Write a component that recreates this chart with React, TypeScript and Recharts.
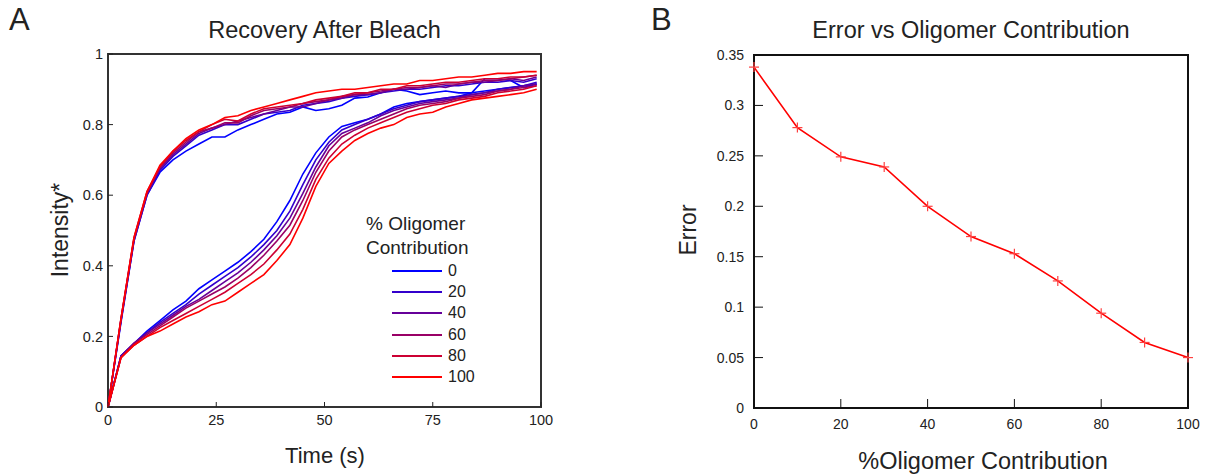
import { LineChart, Line, XAxis, YAxis, ReferenceArea, Legend } from 'recharts'

// panel A: recovery curves, sampled every 3 s
const time = [0,3,6,9,12,15,18,21,24,27,30,33,36,39,42,45,48,51,54,57,60,63,66,69,72,75,78,81,84,87,90,93,96,99]
const levels = ['0','20','40','60','80','100']
const colors = ['#0000ff','#3300cc','#660099','#990066','#cc0033','#ff0000']

const fast0 = [0,0.24,0.47,0.6,0.665,0.7,0.725,0.745,0.765,0.765,0.785,0.8,0.815,0.83,0.835,0.85,0.84,0.845,0.855,0.875,0.878,0.89,0.9,0.895,0.885,0.89,0.895,0.89,0.89,0.93,0.93,0.925,0.905,0.915]
const fast20 = [0,0.245,0.47,0.6,0.67,0.71,0.74,0.77,0.785,0.8,0.8,0.815,0.83,0.835,0.84,0.855,0.86,0.865,0.875,0.88,0.885,0.89,0.895,0.9,0.9,0.905,0.91,0.91,0.915,0.92,0.92,0.925,0.92,0.93]
const fast40 = [0,0.245,0.475,0.605,0.675,0.715,0.745,0.775,0.79,0.8,0.81,0.82,0.83,0.84,0.85,0.85,0.86,0.87,0.875,0.885,0.885,0.89,0.9,0.9,0.905,0.91,0.905,0.915,0.92,0.92,0.925,0.93,0.925,0.935]
const fast60 = [0,0.25,0.475,0.605,0.68,0.72,0.75,0.78,0.79,0.805,0.805,0.825,0.84,0.845,0.85,0.86,0.865,0.87,0.88,0.885,0.89,0.895,0.9,0.905,0.905,0.91,0.915,0.915,0.92,0.925,0.925,0.93,0.935,0.94]
const fast80 = [0,0.25,0.48,0.61,0.68,0.725,0.755,0.78,0.8,0.815,0.81,0.83,0.845,0.85,0.855,0.86,0.87,0.875,0.88,0.89,0.89,0.9,0.9,0.91,0.91,0.915,0.92,0.92,0.925,0.93,0.93,0.935,0.935,0.94]
const fast100 = [0,0.25,0.48,0.61,0.685,0.725,0.76,0.785,0.8,0.82,0.825,0.84,0.85,0.86,0.87,0.88,0.89,0.895,0.9,0.9,0.905,0.91,0.915,0.915,0.925,0.925,0.93,0.935,0.935,0.94,0.945,0.945,0.95,0.95]

const slow0 = [0,0.145,0.18,0.215,0.245,0.275,0.3,0.335,0.36,0.385,0.41,0.44,0.475,0.525,0.585,0.66,0.72,0.765,0.795,0.805,0.815,0.83,0.85,0.86,0.865,0.87,0.875,0.88,0.89,0.895,0.9,0.905,0.91,0.915]
const slow20 = [0,0.145,0.18,0.21,0.24,0.265,0.29,0.32,0.345,0.37,0.395,0.425,0.46,0.5,0.555,0.63,0.7,0.75,0.785,0.8,0.815,0.83,0.845,0.855,0.865,0.87,0.875,0.88,0.885,0.89,0.9,0.905,0.91,0.92]
const slow40 = [0,0.145,0.18,0.21,0.235,0.26,0.285,0.305,0.33,0.355,0.38,0.41,0.445,0.485,0.535,0.605,0.68,0.74,0.775,0.79,0.805,0.825,0.84,0.85,0.86,0.865,0.87,0.875,0.885,0.89,0.895,0.9,0.91,0.915]
const slow60 = [0,0.14,0.18,0.205,0.23,0.255,0.28,0.3,0.32,0.34,0.365,0.395,0.43,0.47,0.515,0.585,0.665,0.725,0.765,0.785,0.8,0.815,0.83,0.845,0.855,0.86,0.865,0.875,0.88,0.885,0.895,0.9,0.905,0.91]
const slow80 = [0,0.14,0.175,0.2,0.225,0.245,0.265,0.285,0.305,0.325,0.35,0.375,0.405,0.445,0.49,0.56,0.645,0.705,0.745,0.77,0.79,0.805,0.82,0.835,0.845,0.855,0.86,0.87,0.875,0.88,0.89,0.895,0.9,0.91]
const slow100 = [0,0.14,0.175,0.2,0.215,0.235,0.255,0.27,0.29,0.3,0.325,0.35,0.375,0.415,0.46,0.535,0.625,0.69,0.725,0.755,0.775,0.79,0.8,0.82,0.83,0.835,0.85,0.86,0.87,0.875,0.88,0.885,0.89,0.9]

const fastSeries = [fast0, fast20, fast40, fast60, fast80, fast100]
const slowSeries = [slow0, slow20, slow40, slow60, slow80, slow100]

const timeTicks = [0,25,50,75,100]
const intensityTicks = [0,0.2,0.4,0.6,0.8,1]

// panel B: fit error
const oligomer = [0,10,20,30,40,50,60,70,80,90,100]
const errorVals = [0.338,0.278,0.249,0.239,0.2,0.17,0.153,0.126,0.094,0.065,0.05]
const oligomerTicks = [0,20,40,60,80,100]
const errorTicks = [0,0.05,0.1,0.15,0.2,0.25,0.3,0.35]

const recovery = time.map((t, i) => {
  const row: any = { t }
  levels.forEach((_, k) => {
    row['f' + k] = fastSeries[k][i]
    row['s' + k] = slowSeries[k][i]
  })
  return row
})

const errorData = oligomer.map((x, i) => ({ x, err: errorVals[i] }))

const font = '"Liberation Sans", Arial, sans-serif'
const ink = '#222'

function PlusDot(props: any) {
  const { cx, cy } = props
  if (cx == null || cy == null) return null
  return (
    <g stroke="#ff4040" strokeWidth={1.2}>
      <line x1={cx - 5} x2={cx + 5} y1={cy} y2={cy} />
      <line x1={cx} x2={cx} y1={cy - 5} y2={cy + 5} />
    </g>
  )
}

function OligomerLegend(props: any) {
  const items = (props.payload || [])
    .filter((p: any) => p.type !== 'none')
    .slice()
    .sort((a: any, b: any) => Number(a.value) - Number(b.value))
  return (
    <div style={{ fontFamily: font, color: ink, fontSize: 19, lineHeight: '24px' }}>
      <div>% Oligomer</div>
      <div>Contribution</div>
      {items.map((p: any) => (
        <div key={p.value} style={{ display: 'flex', alignItems: 'center', height: 21.3, marginLeft: 26 }}>
          <span style={{ display: 'inline-block', width: 50, height: 2, background: p.color, marginRight: 6 }} />
          <span style={{ fontSize: 16 }}>{p.value}</span>
        </div>
      ))}
    </div>
  )
}

const abs = (left: number, top: number, extra: any = {}) => ({ position: 'absolute' as const, left, top, fontFamily: font, color: ink, ...extra })

export default function App() {
  return (
    <div style={{ position: 'absolute', left: 0, top: 0, width: 1206, height: 474, background: '#fff', fontFamily: font }}>
      <div style={abs(9, 2, { fontSize: 31 })}>A</div>
      <div style={abs(651, 2, { fontSize: 31 })}>B</div>
      <div style={abs(108, 17, { width: 433, textAlign: 'center', fontSize: 23.5 })}>Recovery After Bleach</div>
      <div style={abs(754, 17, { width: 434, textAlign: 'center', fontSize: 23.5 })}>Error vs Oligomer Contribution</div>
      <div style={abs(60, 230, { fontSize: 23, transform: 'translate(-50%,-50%) rotate(-90deg)', whiteSpace: 'nowrap' })}>Intensity*</div>
      <div style={abs(325, 456, { fontSize: 22, transform: 'translate(-50%,-50%)', whiteSpace: 'nowrap' })}>Time (s)</div>
      <div style={abs(688, 230, { fontSize: 23, transform: 'translate(-50%,-50%) rotate(-90deg)', whiteSpace: 'nowrap' })}>Error</div>
      <div style={abs(983, 461, { fontSize: 23.5, transform: 'translate(-50%,-50%)', whiteSpace: 'nowrap' })}>%Oligomer Contribution</div>

      <div style={{ position: 'absolute', left: 0, top: 0 }}>
        <LineChart width={560} height={474} data={recovery} margin={{ top: 54, right: 19, bottom: 37, left: 48 }}>
          <XAxis dataKey="t" type="number" domain={[0, 100]} ticks={timeTicks} height={30}
            axisLine={false} tickSize={-5} tickMargin={13} tickLine={{ stroke: ink }}
            tick={{ fill: ink, fontSize: 14.5, fontFamily: font }} />
          <YAxis type="number" domain={[0, 1]} ticks={intensityTicks} width={60}
            axisLine={false} tickSize={-5} tickMargin={10} tickLine={{ stroke: ink }}
            tick={{ fill: ink, fontSize: 14.5, fontFamily: font }} />
          <ReferenceArea x1={0} x2={100} y1={0} y2={1} fill="none" stroke="#333" strokeWidth={2} ifOverflow="visible" />
          {levels.map((lv, k) => [
            <Line key={'f' + k} dataKey={'f' + k} stroke={colors[k]} strokeWidth={1.6} dot={false} legendType="none" isAnimationActive={false} />,
            <Line key={'s' + k} dataKey={'s' + k} name={lv} stroke={colors[k]} strokeWidth={1.6} dot={false} isAnimationActive={false} />,
          ])}
          <Legend layout="vertical" align="center" verticalAlign="middle" content={OligomerLegend}
            wrapperStyle={{ left: 366, top: 212, width: 'auto' }} />
        </LineChart>
      </div>

      <div style={{ position: 'absolute', left: 640, top: 0 }}>
        <LineChart width={566} height={474} data={errorData} margin={{ top: 55, right: 18, bottom: 36, left: 54 }}>
          <XAxis dataKey="x" type="number" domain={[0, 100]} ticks={oligomerTicks} height={30}
            axisLine={false} tickSize={-9} tickMargin={20} tickLine={{ stroke: '#111' }}
            tick={{ fill: ink, fontSize: 14, fontFamily: font }} />
          <XAxis xAxisId="top" orientation="top" dataKey="x" type="number" domain={[0, 100]} ticks={oligomerTicks} height={0}
            axisLine={false} tickSize={-9} tick={false} tickLine={{ stroke: '#111' }} />
          <YAxis type="number" domain={[0, 0.35]} ticks={errorTicks} width={60}
            axisLine={false} tickSize={-9} tickMargin={19} tickLine={{ stroke: '#111' }}
            tick={{ fill: ink, fontSize: 14, fontFamily: font }} />
          <YAxis yAxisId="right" orientation="right" type="number" domain={[0, 0.35]} ticks={errorTicks} width={0}
            axisLine={false} tickSize={-9} tick={false} tickLine={{ stroke: '#111' }} />
          <ReferenceArea x1={0} x2={100} y1={0} y2={0.35} fill="none" stroke="#111" strokeWidth={2} ifOverflow="visible" />
          <Line dataKey="err" stroke="#ff0000" strokeWidth={1.6} dot={<PlusDot />} isAnimationActive={false} />
        </LineChart>
      </div>
    </div>
  )
}
